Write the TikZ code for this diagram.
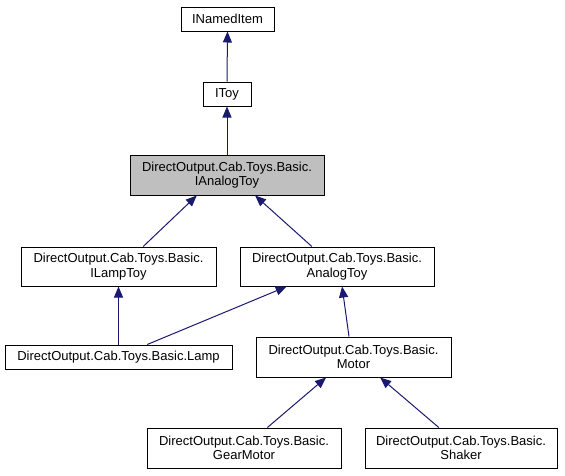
\documentclass[tikz,border=0pt]{standalone}
\usepackage{fontspec}
\setmainfont{Liberation Sans}
\usetikzlibrary{arrows.meta,calc}
\definecolor{edgeblue}{HTML}{191970}
\definecolor{hlgray}{HTML}{BFBFBF}
\begin{document}
\begin{tikzpicture}[x=1pt,y=-1pt,
  cls/.style={draw=black,line width=1pt,fill=white,inner sep=0pt,align=center,
    font=\fontsize{13}{14.5}\selectfont},
  inh/.style={draw=edgeblue,line width=1pt,
    -{Triangle[length=11pt,width=9pt,fill=edgeblue]}}]
\useasboundingbox (0,0) rectangle (565,475);
\node[cls,minimum width=93pt,minimum height=24pt] (inamed) at (227.5,19) {INamedItem};
\node[cls,minimum width=48pt,minimum height=24pt] (itoy) at (227,94) {IToy};
\node[cls,fill=hlgray,minimum width=194pt,minimum height=40pt] (ianalog) at (227,175) {DirectOutput.Cab.Toys.Basic.\\IAnalogToy};
\node[cls,minimum width=195pt,minimum height=39pt] (ilamp) at (118.5,266.5) {DirectOutput.Cab.Toys.Basic.\\ILampToy};
\node[cls,minimum width=194pt,minimum height=39pt] (analog) at (337,266.5) {DirectOutput.Cab.Toys.Basic.\\AnalogToy};
\node[cls,minimum width=227pt,minimum height=24pt] (lamp) at (118.5,357) {DirectOutput.Cab.Toys.Basic.Lamp};
\node[cls,minimum width=195pt,minimum height=40pt] (motor) at (353.5,357) {DirectOutput.Cab.Toys.Basic.\\Motor};
\node[cls,minimum width=194pt,minimum height=40pt] (gear) at (244,448) {DirectOutput.Cab.Toys.Basic.\\GearMotor};
\node[cls,minimum width=192pt,minimum height=40pt] (shaker) at (461,448) {DirectOutput.Cab.Toys.Basic.\\Shaker};

\draw[inh] (itoy.north) -- (inamed.south);
\draw[inh] (ianalog.north) -- (itoy.south);
\draw[inh] ($(ilamp.north west)!0.626!(ilamp.north east)$) -- ($(ianalog.south west)!0.345!(ianalog.south east)$);
\draw[inh] ($(analog.north west)!0.371!(analog.north east)$) -- ($(ianalog.south west)!0.644!(ianalog.south east)$);
\draw[inh] (lamp.north) -- (ilamp.south);
\draw[inh] ($(lamp.north west)!0.626!(lamp.north east)$) -- ($(analog.south west)!0.242!(analog.south east)$);
\draw[inh] ($(motor.north west)!0.477!(motor.north east)$) -- ($(analog.south west)!0.526!(analog.south east)$);
\draw[inh] ($(gear.north west)!0.62!(gear.north east)$) -- ($(motor.south west)!0.36!(motor.south east)$);
\draw[inh] ($(shaker.north west)!0.385!(shaker.north east)$) -- ($(motor.south west)!0.636!(motor.south east)$);
\end{tikzpicture}
\end{document}
